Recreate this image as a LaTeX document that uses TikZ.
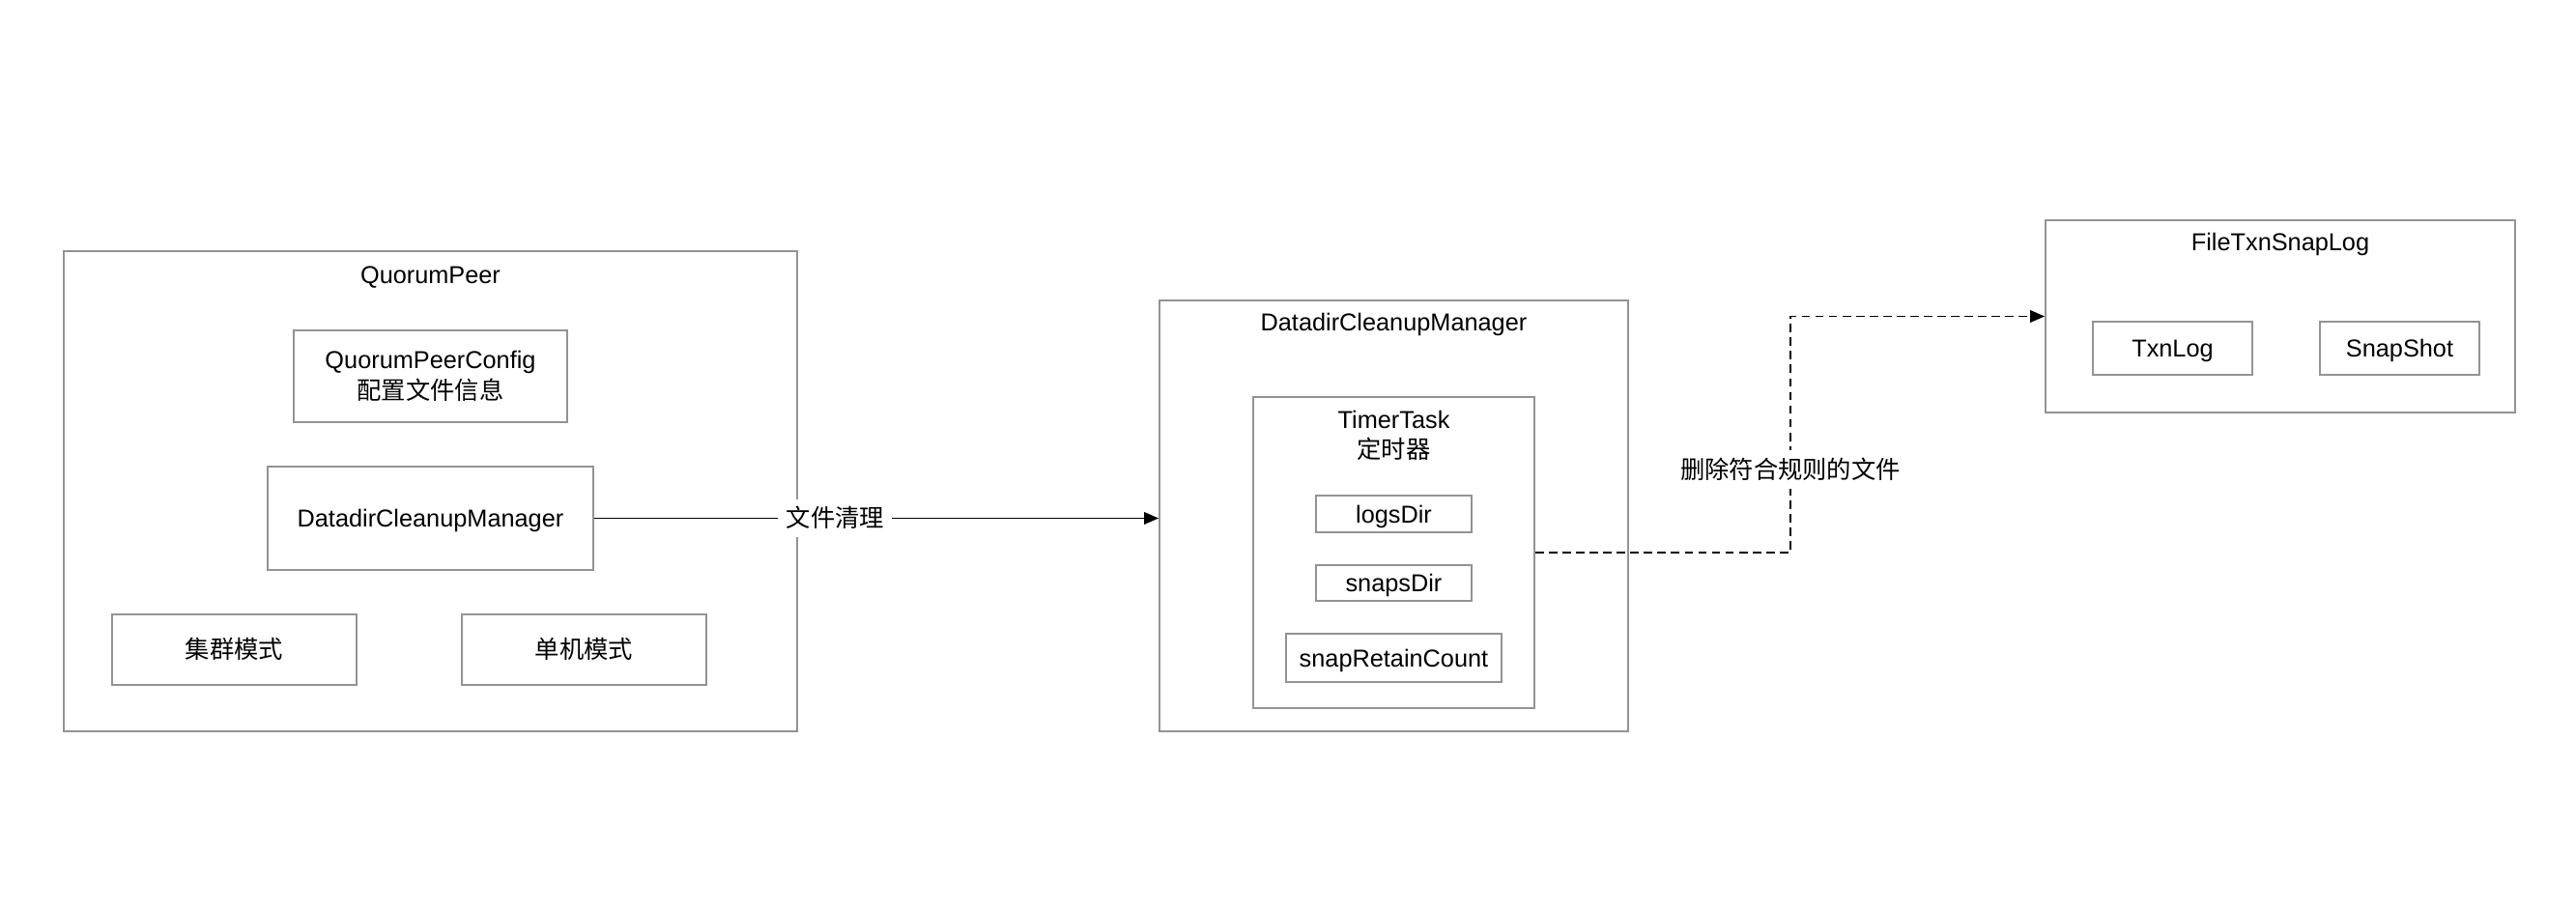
\documentclass[tikz,border=0pt]{standalone}
\usepackage{fontspec}
\setmainfont{Liberation Sans}
\newfontfamily\cjk{Noto Sans CJK SC}
\usetikzlibrary{arrows.meta}
\definecolor{boxgray}{HTML}{939393}

\begin{document}
\begin{tikzpicture}[
		font=\fontsize{7.2}{9}\selectfont,
		line/.style={text height=5.3pt,text depth=0pt},
		box/.style={draw=boxgray,line width=0.5pt,inner sep=0pt,align=center},
		tag/.style={line,fill=white,inner xsep=2.4pt,inner ysep=3pt},
		link/.style={draw=black,line width=0.5pt,-{Triangle[length=4.3pt,width=3.6pt]}}
	]
		\useasboundingbox (0,0) rectangle (26.66,9.42);

		\node[box,minimum width=7.59cm,minimum height=4.97cm] (qp) at (4.455,4.335) {};
		\node[line] (qpTitle) at (4.455,6.58) {QuorumPeer};
		\node[box,minimum width=2.83cm,minimum height=0.95cm] (cfg) at (4.455,5.525) {QuorumPeerConfig\\{\cjk 配置文件信息}};
		\node[box,line,minimum width=3.37cm,minimum height=1.07cm] (qpCleanup) at (4.455,4.055) {DatadirCleanupManager};
		\node[box,line,minimum width=2.53cm,minimum height=0.73cm] (cluster) at (2.425,2.695) {\cjk 集群模式};
		\node[box,line,minimum width=2.53cm,minimum height=0.73cm] (single) at (6.045,2.695) {\cjk 单机模式};

		\node[box,minimum width=4.85cm,minimum height=4.46cm] (dcm) at (14.425,4.08) {};
		\node[line] (dcmTitle) at (14.425,6.09) {DatadirCleanupManager};
		\node[box,minimum width=2.91cm,minimum height=3.22cm] (timer) at (14.425,3.70) {};
		\node[align=center] (timerTitle) at (14.425,4.91) {TimerTask\\{\cjk 定时器}};
		\node[box,line,minimum width=1.61cm,minimum height=0.38cm] (logs) at (14.425,4.10) {logsDir};
		\node[box,line,minimum width=1.61cm,minimum height=0.37cm] (snaps) at (14.425,3.385) {snapsDir};
		\node[box,line,minimum width=2.23cm,minimum height=0.50cm] (retain) at (14.425,2.61) {snapRetainCount};

		\node[box,minimum width=4.86cm,minimum height=1.99cm] (ftsl) at (23.60,6.145) {};
		\node[line] (ftslTitle) at (23.60,6.92) {FileTxnSnapLog};
		\node[box,line,minimum width=1.65cm,minimum height=0.55cm] (txn) at (22.485,5.815) {TxnLog};
		\node[box,line,minimum width=1.65cm,minimum height=0.55cm] (snap) at (24.835,5.815) {SnapShot};

		\coordinate (turn) at (18.53,0);

		\draw[link] (qpCleanup.east) -- node[tag,pos=0.427] (cleanTag) {\cjk 文件清理} (qpCleanup.east -| dcm.west);
		\draw[link,dash pattern=on 2.5pt off 1.5pt] (timer.east) -| node[tag,pos=0.676] (deleteTag) {\cjk 删除符合规则的文件} (turn |- ftsl.west) -- (ftsl.west);
	\end{tikzpicture}
\end{document}
